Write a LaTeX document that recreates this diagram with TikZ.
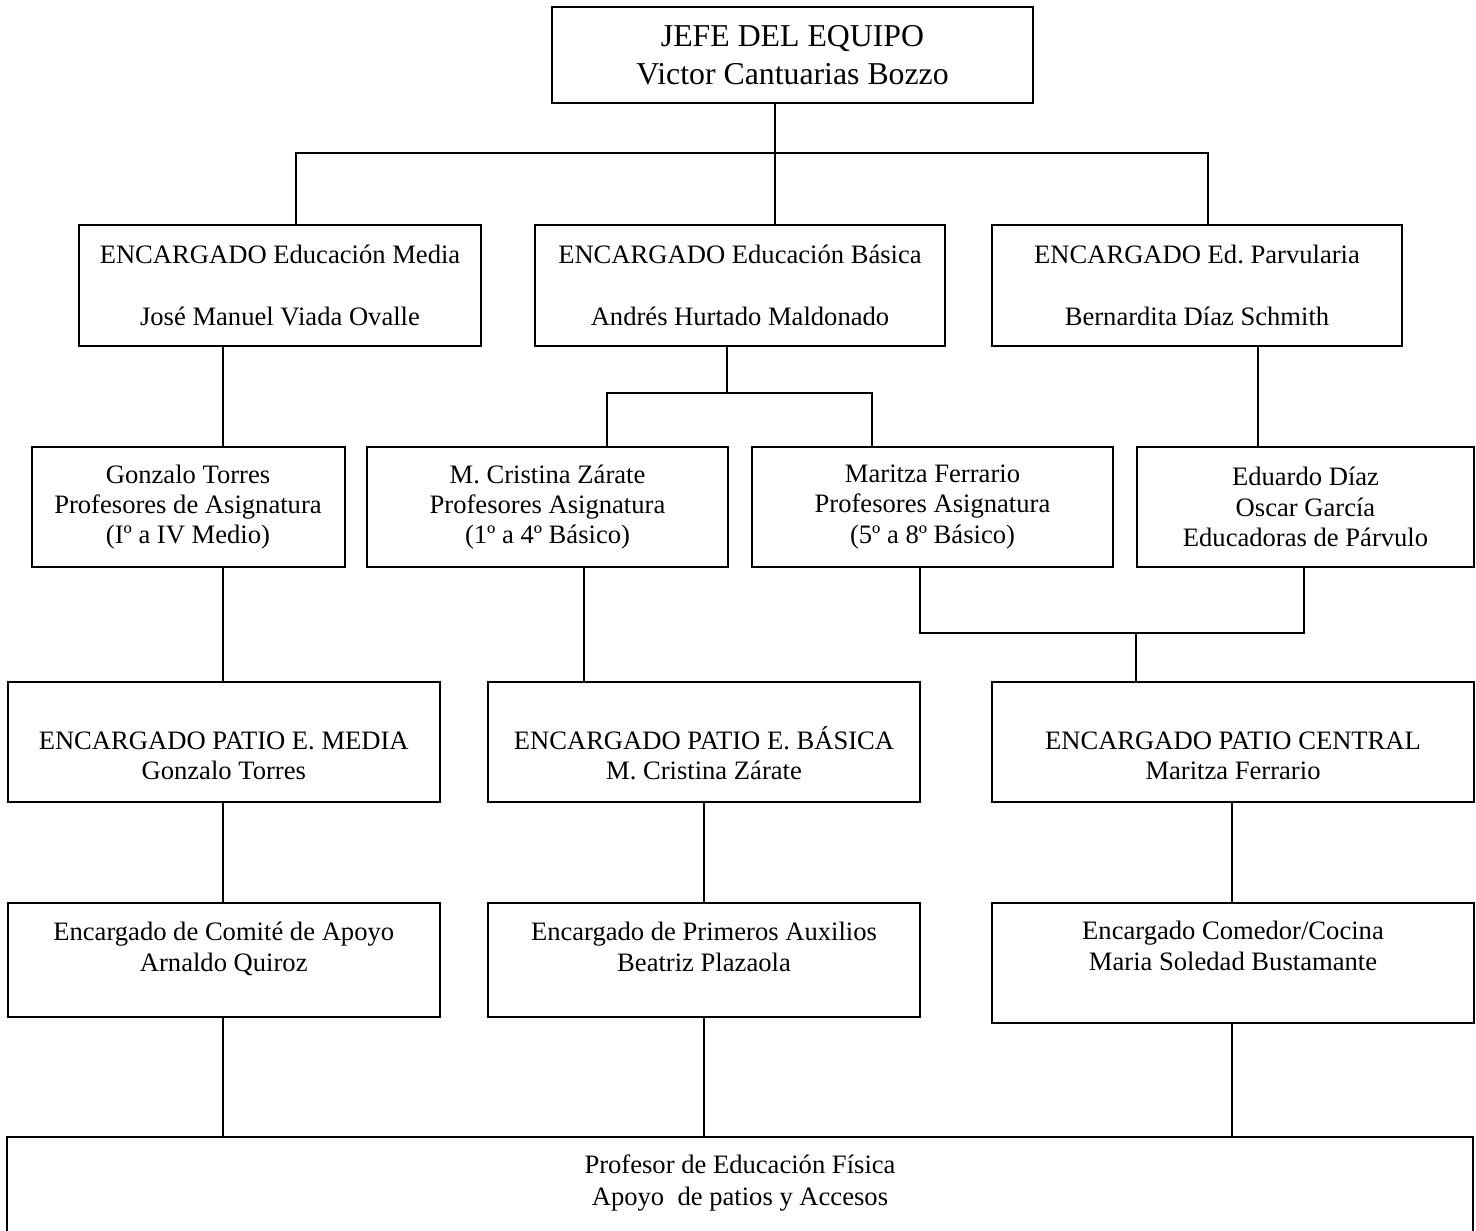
\documentclass[tikz,border=0pt]{standalone}
\usepackage{fontspec}
\setmainfont{Liberation Serif}
\newcommand{\fs}{\fontsize{13.3}{15.2}\selectfont}
\newcommand{\fsg}{\fontsize{15.9}{19}\selectfont}

\begin{document}
\frenchspacing
\begin{tikzpicture}[x=0.5pt,y=-0.5pt,
   caja/.style={draw, line width=1pt, align=center, inner sep=0pt, font=\fs},
   texto/.style={align=center, inner sep=0pt, font=\fs},
   linea/.style={line width=0.7pt}]
   \useasboundingbox (0,0) rectangle (1476,1230);
   \node[caja, font=\fsg, minimum width=240.5pt, minimum height=48pt] (jefe) at (792.5,55) {JEFE DEL EQUIPO\\Victor Cantuarias Bozzo};
   \node[caja, minimum width=201pt, minimum height=60.5pt] (media)  at (280,285.5)  {ENCARGADO Educación Media\\[15.5pt]José Manuel Viada Ovalle};
   \node[caja, minimum width=205pt, minimum height=60.5pt] (basica) at (740,285.5)  {ENCARGADO Educación Básica\\[15.5pt]Andrés Hurtado Maldonado};
   \node[caja, minimum width=205pt, minimum height=60.5pt] (parv)   at (1197,285.5) {ENCARGADO Ed. Parvularia\\[15.5pt]Bernardita Díaz Schmith};
   \node[caja, minimum width=156.5pt, minimum height=60pt] (torres)   at (188,507)    {Gonzalo Torres\\Profesores de Asignatura\\(Iº a IV Medio)};
   \node[caja, minimum width=180.5pt, minimum height=60pt] (zarate)   at (547.5,507)  {M. Cristina Zárate\\Profesores Asignatura\\(1º a 4º Básico)};
   \node[caja, minimum width=180.5pt, minimum height=60pt] (ferrario) at (932.5,507)  {Maritza Ferrario\\Profesores Asignatura\\(5º a 8º Básico)};
   \node[caja, minimum width=168.5pt, minimum height=60pt] (diaz)     at (1305.5,507) {Eduardo Díaz\\Oscar García\\Educadoras de Párvulo};
   \node[caja, minimum width=216.25pt, minimum height=60pt] (patioM) at (223.75,742) {};
   \node[caja, minimum width=216pt,    minimum height=60pt] (patioB) at (704,742)    {};
   \node[caja, minimum width=241pt,    minimum height=60pt] (patioC) at (1233,742)   {};
   \node[texto] (patioMt) at (223.75,756) {ENCARGADO PATIO E. MEDIA\\Gonzalo Torres};
   \node[texto] (patioBt) at (704,753)    {ENCARGADO PATIO E. BÁSICA\\M. Cristina Zárate};
   \node[texto] (patioCt) at (1233,756)   {ENCARGADO PATIO CENTRAL\\Maritza Ferrario};
   \node[caja, minimum width=216.25pt, minimum height=57pt] (comite)   at (223.75,960) {};
   \node[caja, minimum width=216pt,    minimum height=57pt] (auxilios) at (704,960)    {};
   \node[caja, minimum width=241pt,    minimum height=60pt] (comedor)  at (1233,963)   {};
   \node[texto] (comitet)   at (223.75,949) {Encargado de Comité de Apoyo\\Arnaldo Quiroz};
   \node[texto] (auxiliost) at (704,947)    {Encargado de Primeros Auxilios\\Beatriz Plazaola};
   \node[texto] (comedort)  at (1233,946)   {Encargado Comedor/Cocina\\Maria Soledad Bustamante};
   \node[caja, minimum width=733pt, minimum height=53pt] (fisica) at (740,1190) {};
   \node[texto] (fisicat) at (740,1183) {Profesor de Educación Física\\[1pt]Apoyo~ de patios y Accesos};
   \coordinate (barra1) at (775,153);
   \coordinate (barra2) at (727,393);
   \coordinate (barra3) at (1136,633);
   \draw[linea] (775,0 |- jefe.south) -- (775,0 |- basica.north);
   \draw[linea] (296,0 |- media.north) |- (barra1) -| (1208,0 |- parv.north);
   \draw[linea] (223,0 |- media.south) -- (223,0 |- torres.north);
   \draw[linea] (727,0 |- basica.south) -- (barra2);
   \draw[linea] (607,0 |- zarate.north) |- (barra2) -| (872,0 |- ferrario.north);
   \draw[linea] (1258,0 |- parv.south) -- (1258,0 |- diaz.north);
   \draw[linea] (223,0 |- torres.south) -- (223,0 |- patioM.north);
   \draw[linea] (584,0 |- zarate.south) -- (584,0 |- patioB.north);
   \draw[linea] (920,0 |- ferrario.south) |- (barra3) -| (1304,0 |- diaz.south);
   \draw[linea] (barra3) -- (1136,0 |- patioC.north);
   \draw[linea] (223,0 |- patioM.south) -- (223,0 |- comite.north);
   \draw[linea] (704,0 |- patioB.south) -- (704,0 |- auxilios.north);
   \draw[linea] (1232,0 |- patioC.south) -- (1232,0 |- comedor.north);
   \draw[linea] (223,0 |- comite.south) -- (223,0 |- fisica.north);
   \draw[linea] (704,0 |- auxilios.south) -- (704,0 |- fisica.north);
   \draw[linea] (1232,0 |- comedor.south) -- (1232,0 |- fisica.north);
\end{tikzpicture}
\end{document}
